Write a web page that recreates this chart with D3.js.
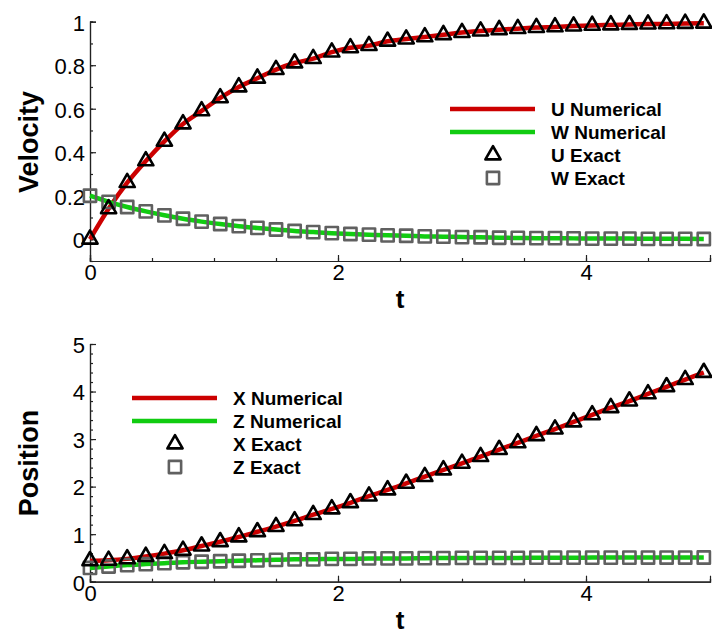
<!DOCTYPE html>
<html>
<head>
<meta charset="utf-8">
<script src="https://cdn.jsdelivr.net/npm/d3@7"></script>
<style>
  body { margin: 0; background: white; }
  text { font-family: "Liberation Sans", Arial, sans-serif; }
</style>
</head>
<body>
<div id="chart"></div>
<script>
// sample times of the exact solution markers
let tVals = [0, 0.15, 0.3, 0.45, 0.6, 0.75, 0.9, 1.05, 1.2, 1.35, 1.5, 1.65, 1.8, 1.95,
	2.1, 2.25, 2.4, 2.55, 2.7, 2.85, 3, 3.15, 3.3, 3.45, 3.6, 3.75, 3.9, 4.05, 4.2,
	4.35, 4.5, 4.65, 4.8, 4.95];

let uVals = [0, 0.14, 0.26, 0.36, 0.45, 0.53, 0.59, 0.65, 0.70, 0.74, 0.78, 0.81, 0.83, 0.86,
	0.88, 0.89, 0.91, 0.92, 0.93, 0.94, 0.95, 0.957, 0.963, 0.968, 0.973, 0.976, 0.98,
	0.983, 0.985, 0.987, 0.989, 0.99, 0.992, 0.993];

let wVals = [0.2, 0.172, 0.148, 0.128, 0.11, 0.094, 0.081, 0.07, 0.06, 0.052, 0.045, 0.038,
	0.033, 0.028, 0.024, 0.021, 0.018, 0.016, 0.013, 0.012, 0.01, 0.009, 0.007, 0.006,
	0.005, 0.005, 0.004, 0.003, 0.003, 0.003, 0.002, 0.002, 0.002, 0.001];

let xVals = [0.44, 0.45, 0.48, 0.53, 0.59, 0.66, 0.75, 0.84, 0.94, 1.05, 1.16, 1.28, 1.41,
	1.53, 1.66, 1.80, 1.93, 2.07, 2.21, 2.35, 2.49, 2.63, 2.78, 2.92, 3.07, 3.21, 3.36,
	3.51, 3.66, 3.80, 3.95, 4.10, 4.25, 4.40];

let zVals = [0.29, 0.32, 0.35, 0.37, 0.39, 0.41, 0.42, 0.43, 0.44, 0.45, 0.46, 0.47, 0.47,
	0.48, 0.48, 0.49, 0.49, 0.49, 0.495, 0.497, 0.5, 0.5, 0.5, 0.5, 0.505, 0.505, 0.505,
	0.507, 0.507, 0.507, 0.508, 0.508, 0.508, 0.509];

let xTicks = [0, 2, 4];
let velTicks = [0, 0.2, 0.4, 0.6, 0.8, 1];
let posTicks = [0, 1, 2, 3, 4, 5];

let width = 712;
let height = 635;

let red = "#cc0000";
let green = "#11cc11";
let gray = "#606060";

let svg = d3.select("#chart")
	.append("svg")
	.attr("width", width)
	.attr("height", height);

function drawPanel(opt) {
	let g = svg.append("g");

	let xScale = d3.scaleLinear()
		.domain([0, 5])
		.range([90, 710]);

	let yScale = d3.scaleLinear()
		.domain(opt.yDomain)
		.range(opt.yRange);

	let yBottom = opt.yRange[0];

	// minor ticks
	let xAxisMinor = d3.axisTop(xScale)
		.tickValues(d3.range(0, 5.01, 0.5))
		.tickSize(3)
		.tickFormat("");
	g.append("g")
		.attr("transform", `translate(0,${yBottom})`)
		.call(xAxisMinor);

	let yAxisMinor = d3.axisRight(yScale)
		.tickValues(opt.yMinor)
		.tickSize(3)
		.tickFormat("");
	g.append("g")
		.attr("transform", "translate(90,0)")
		.call(yAxisMinor);

	let xAxis = d3.axisTop(xScale)
		.tickValues(xTicks)
		.tickSize(6)
		.tickFormat(d3.format("d"));
	let xg = g.append("g")
		.attr("transform", `translate(0,${yBottom})`)
		.call(xAxis);
	xg.selectAll("text")
		.attr("y", 19)
		.attr("dy", 0)
		.attr("font-size", 22)
		.attr("fill", "black");

	let yAxis = d3.axisRight(yScale)
		.tickValues(opt.yTicks)
		.tickSize(6)
		.tickFormat(d => d3.format("")(d));
	let yg = g.append("g")
		.attr("transform", "translate(90,0)")
		.call(yAxis);
	yg.selectAll("text")
		.attr("x", -5)
		.attr("dy", "0.38em")
		.attr("text-anchor", "end")
		.attr("font-size", 22)
		.attr("fill", "black");

	g.selectAll(".domain").attr("stroke", "#222").attr("stroke-width", 1.2);
	g.selectAll(".tick line").attr("stroke", "#222").attr("stroke-width", 1.2);

	// axis titles
	g.append("text")
		.attr("x", 400)
		.attr("y", yBottom + 47)
		.attr("text-anchor", "middle")
		.attr("font-size", 26)
		.attr("font-weight", "bold")
		.text("t");

	g.append("text")
		.attr("transform", `translate(38,${opt.titleY}) rotate(-90)`)
		.attr("text-anchor", "middle")
		.attr("font-size", 27)
		.attr("font-weight", "bold")
		.text(opt.yTitle);

	// numerical lines
	let line = d3.line()
		.x(d => xScale(d[0]))
		.y(d => yScale(d[1]))
		.curve(d3.curveMonotoneX);

	g.append("path")
		.datum(d3.zip(tVals, opt.s1))
		.attr("d", line)
		.attr("fill", "none")
		.attr("stroke", red)
		.attr("stroke-width", 4.5);

	g.append("path")
		.datum(d3.zip(tVals, opt.s2))
		.attr("d", line)
		.attr("fill", "none")
		.attr("stroke", green)
		.attr("stroke-width", 4.5);

	// exact markers
	let tri = d3.symbol().type(d3.symbolTriangle).size(100);
	let sq = d3.symbol().type(d3.symbolSquare).size(150);

	g.selectAll(".sq")
		.data(d3.zip(tVals, opt.s2))
		.enter()
		.append("path")
		.attr("class", "sq")
		.attr("d", sq)
		.attr("transform", d => `translate(${xScale(d[0])},${yScale(d[1])})`)
		.attr("fill", "none")
		.attr("stroke", gray)
		.attr("stroke-width", 2.6)
		.attr("stroke-linejoin", "round");

	g.selectAll(".tri")
		.data(d3.zip(tVals, opt.s1))
		.enter()
		.append("path")
		.attr("class", "tri")
		.attr("d", tri)
		.attr("transform", d => `translate(${xScale(d[0])},${yScale(d[1])})`)
		.attr("fill", "none")
		.attr("stroke", "black")
		.attr("stroke-width", 2.6)
		.attr("stroke-linejoin", "round");

	// legend
	let lx = opt.legend[0], ly = opt.legend[1];
	let rows = 23;
	let lg = g.append("g");
	lg.append("line").attr("x1", lx).attr("x2", lx + 85).attr("y1", ly).attr("y2", ly)
		.attr("stroke", red).attr("stroke-width", 4.5);
	lg.append("line").attr("x1", lx).attr("x2", lx + 85).attr("y1", ly + rows).attr("y2", ly + rows)
		.attr("stroke", green).attr("stroke-width", 4.5);
	lg.append("path").attr("d", tri)
		.attr("transform", `translate(${lx + 43},${ly + 2 * rows})`)
		.attr("fill", "none").attr("stroke", "black").attr("stroke-width", 2.6)
		.attr("stroke-linejoin", "round");
	lg.append("path").attr("d", sq)
		.attr("transform", `translate(${lx + 43},${ly + 3 * rows})`)
		.attr("fill", "none").attr("stroke", gray).attr("stroke-width", 2.6)
		.attr("stroke-linejoin", "round");

	lg.selectAll(".ltxt")
		.data(opt.labels)
		.enter()
		.append("text")
		.attr("x", lx + 101)
		.attr("y", (d, i) => ly + i * rows)
		.attr("dy", "0.36em")
		.attr("font-size", 19)
		.attr("font-weight", "bold")
		.text(d => d);
}

drawPanel({
	yDomain: [-0.1, 1],
	yRange: [261, 21.7],
	yTicks: velTicks,
	yMinor: d3.range(-0.1, 1.001, 0.1),
	yTitle: "Velocity",
	titleY: 142,
	s1: uVals,
	s2: wVals,
	legend: [450, 109],
	labels: ["U Numerical", "W Numerical", "U Exact", "W Exact"]
});

drawPanel({
	yDomain: [0, 5],
	yRange: [581.7, 344],
	yTicks: posTicks,
	yMinor: d3.range(0, 5.001, 0.2),
	yTitle: "Position",
	titleY: 463,
	s1: xVals,
	s2: zVals,
	legend: [132, 398],
	labels: ["X Numerical", "Z Numerical", "X Exact", "Z Exact"]
});
</script>
</body>
</html>
